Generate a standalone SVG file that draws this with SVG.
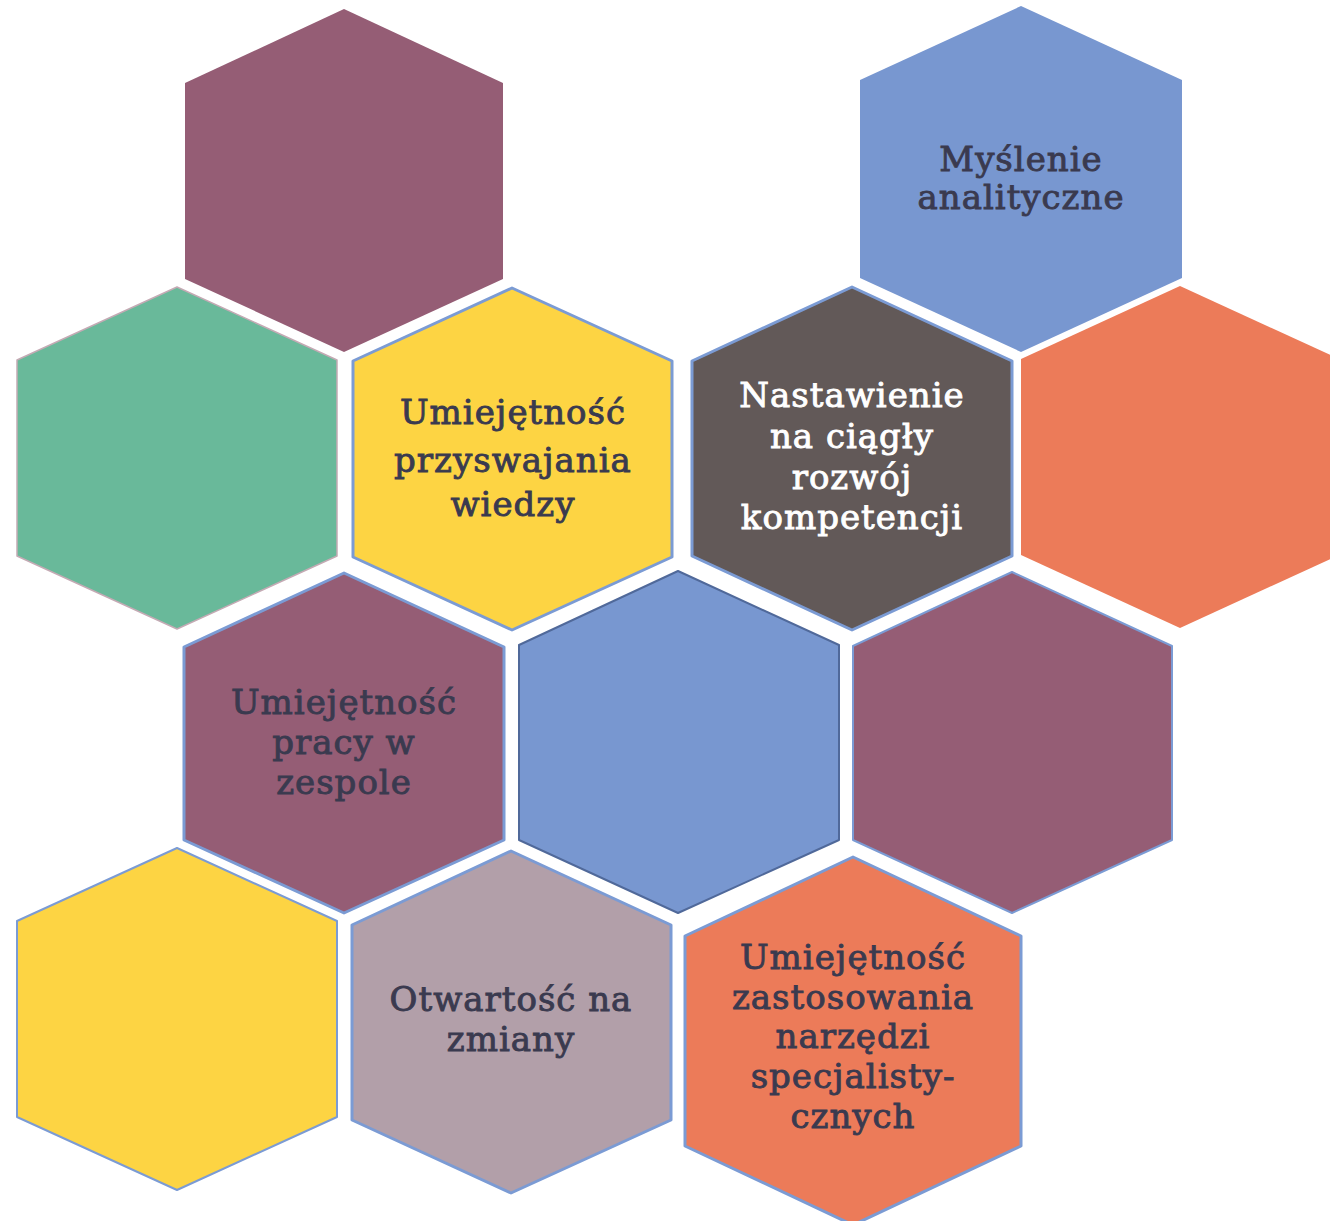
<svg xmlns="http://www.w3.org/2000/svg" width="1330" height="1221" viewBox="0 0 1330 1221">
<style>
.t{font-family:"DejaVu Serif","Liberation Serif",serif;font-size:34px;letter-spacing:1px;fill:#3a3a4f;text-anchor:middle;stroke:#3a3a4f;stroke-width:0.9}
.w{fill:#ffffff;stroke:#ffffff}
.pu{fill:#955d75}
.bl{fill:#7897d0}
.gr{fill:#69b99a}
.ye{fill:#fdd443}
.dk{fill:#625958}
.or{fill:#ec7b59}
.ma{fill:#b29fa9}
.sb{stroke:#7b9bd4;stroke-width:3;stroke-linejoin:round}
.sbt{stroke:#7b9bd4;stroke-width:2;stroke-linejoin:round}
.sd{stroke:#50699a;stroke-width:2;stroke-linejoin:round}
.sg{stroke:#c4aab4;stroke-width:1.5;stroke-linejoin:round}
</style>
<g id="hex1"><polygon class="pu" points="344,9 503,83 503,279 344,352 185,279 185,83"/></g>
<g id="hex2"><polygon class="bl" points="1021,6 1182,80 1182,278 1021,352 860,278 860,80"/>
<text class="t" x="1021" y="171">Myślenie</text><text class="t" x="1021" y="209">analityczne</text></g>
<g id="hex3"><polygon class="gr sg" points="177,287 337,360 337,556 177,629 17,556 17,360"/></g>
<g id="hex4"><polygon class="ye sb" points="512,288 672,361 672,557 512,630 353,557 353,361"/>
<text class="t" x="513" y="424">Umiejętność</text><text class="t" x="513" y="472">przyswajania</text><text class="t" x="513" y="516">wiedzy</text></g>
<g id="hex5"><polygon class="dk sb" points="852,287 1012,361 1012,556 852,630 692,556 692,361"/>
<text class="t w" x="852" y="407">Nastawienie</text><text class="t w" x="852" y="448">na ciągły</text><text class="t w" x="852" y="489">rozwój</text><text class="t w" x="852" y="529">kompetencji</text></g>
<g id="hex6"><polygon class="or" points="1180,286 1339,359 1339,555 1180,628 1021,555 1021,359"/></g>
<g id="hex7"><polygon class="pu sb" points="344,573 504,647 504,840 344,913 184,840 184,647"/>
<text class="t" x="344" y="714">Umiejętność</text><text class="t" x="344" y="754">pracy w</text><text class="t" x="344" y="794">zespole</text></g>
<g id="hex8"><polygon class="bl sd" points="678,571 839,645 839,840 678,913 519,840 519,645"/></g>
<g id="hex9"><polygon class="pu sbt" points="1012,572 1172,646 1172,840 1012,913 853,840 853,646"/></g>
<g id="hex10"><polygon class="ye sbt" points="177,848 337,921 337,1117 177,1190 17,1117 17,921"/></g>
<g id="hex11"><polygon class="ma sb" points="511,851 671,925 671,1120 511,1193 352,1120 352,925"/>
<text class="t" x="511" y="1011">Otwartość na</text><text class="t" x="511" y="1051">zmiany</text></g>
<g id="hex12"><polygon class="or sb" points="853,857 1021,936 1021,1146 853,1225 685,1146 685,936"/>
<text class="t" x="853" y="969">Umiejętność</text><text class="t" x="853" y="1009">zastosowania</text><text class="t" x="853" y="1048">narzędzi</text><text class="t" x="853" y="1088">specjalisty-</text><text class="t" x="853" y="1128">cznych</text></g>
<g id="connectors"></g>
</svg>
